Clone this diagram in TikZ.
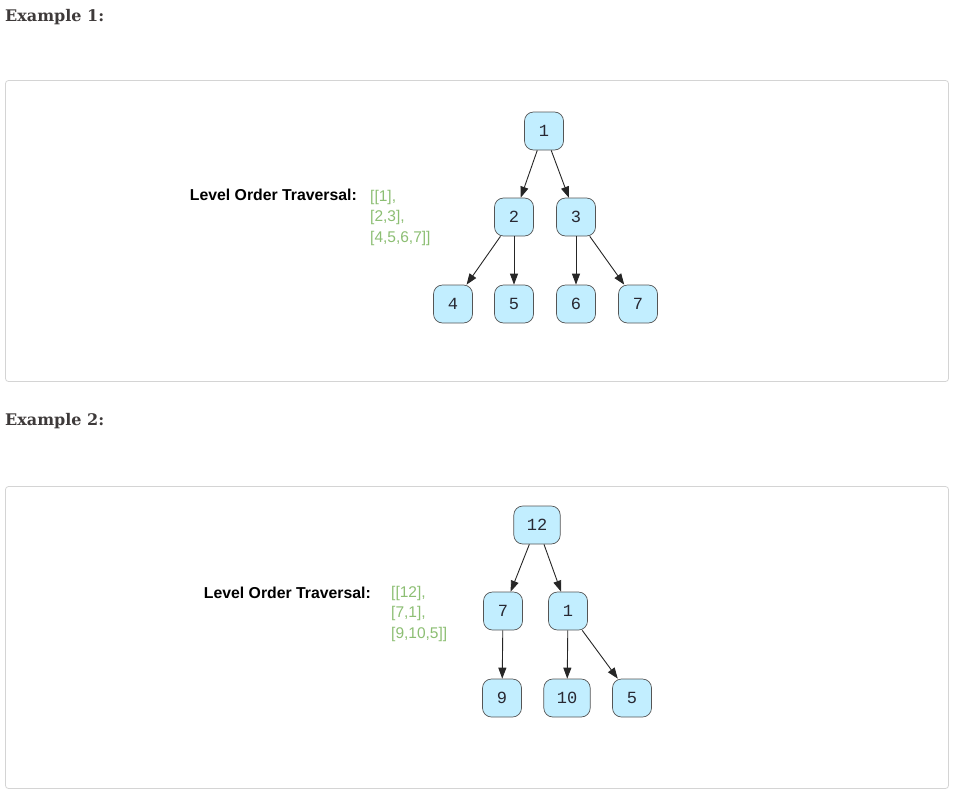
\documentclass[tikz,border=0pt]{standalone}
\usepackage{fontspec}
\usepackage{xcolor}
\usepackage{tikz}
\usetikzlibrary{arrows.meta}
\setmainfont{Liberation Sans}
\newfontfamily\headfont{DejaVu Serif}
\newfontfamily\keyfont{Liberation Mono}
\definecolor{headgray}{RGB}{62,58,58}
\definecolor{boxgray}{RGB}{212,212,212}
\definecolor{listgreen}{RGB}{140,190,115}
\definecolor{keyfill}{RGB}{194,238,255}
\definecolor{keyline}{RGB}{85,85,85}
\definecolor{keytext}{RGB}{40,40,50}
\tikzset{
    heading/.style={anchor=west,inner sep=0pt,text=headgray,font=\headfont\bfseries\fontsize{16}{19}\selectfont},
    panel/.style={draw=boxgray,line width=0.8pt,rounded corners=3pt},
    caption/.style={anchor=east,inner sep=0pt,font=\bfseries\fontsize{15.8}{18}\selectfont},
    levels/.style={anchor=north west,inner sep=0pt,align=left,text=listgreen,font=\fontsize{15.5}{20.5}\selectfont},
    key/.style={draw=keyline,fill=keyfill,line width=0.7pt,rounded corners=9pt,text=keytext,
        minimum width=39pt,minimum height=38pt,inner xsep=13pt,font=\keyfont\fontsize{17}{17}\selectfont},
    edge/.style={-{Triangle[length=11pt,width=8pt]},line width=0.9pt,draw=black!85}
}
\begin{document}
\begin{tikzpicture}[x=1pt,y=-1pt]
        \useasboundingbox (0,0) rectangle (957,795);
        % Example 1
        \node[heading] (head1) at (5,17) {Example 1:};
        \draw[panel] (5.5,80.5) rectangle (948.5,381.5);
        \node[caption] (cap1) at (357,195) {Level Order Traversal:};
        \node[levels] (lev1) at (370,190) {{[[1],}\\{[2,3],}\\{[4,5,6,7]]}};
        \node[key] (a1) at (544,131) {1};
        \node[key] (a2) at (514,217) {2};
        \node[key] (a3) at (576,217) {3};
        \node[key] (a4) at (453,304) {4};
        \node[key] (a5) at (514,304) {5};
        \node[key] (a6) at (576,304) {6};
        \node[key] (a7) at (638,304) {7};
        \draw[edge] (a1) -- (a2);
        \draw[edge] (a1) -- (a3);
        \draw[edge] (a2) -- (a4);
        \draw[edge] (a2) -- (a5);
        \draw[edge] (a3) -- (a6);
        \draw[edge] (a3) -- (a7);
        % Example 2
        \node[heading] (head2) at (5,421) {Example 2:};
        \draw[panel] (5.5,486.5) rectangle (948.5,788.5);
        \node[caption] (cap2) at (371,593) {Level Order Traversal:};
        \node[levels] (lev2) at (391,586) {{[[12],}\\{[7,1],}\\{[9,10,5]]}};
        \node[key] (b12) at (537,525) {12};
        \node[key] (b7) at (503,611) {7};
        \node[key] (b1) at (568,611) {1};
        \node[key] (b9) at (502,698) {9};
        \node[key] (b10) at (567,698) {10};
        \node[key] (b5) at (632,698) {5};
        \draw[edge] (b12) -- (b7);
        \draw[edge] (b12) -- (b1);
        \draw[edge] (b7) -- (b9);
        \draw[edge] (b1) -- (b10);
        \draw[edge] (b1) -- (b5);
\end{tikzpicture}
\end{document}
